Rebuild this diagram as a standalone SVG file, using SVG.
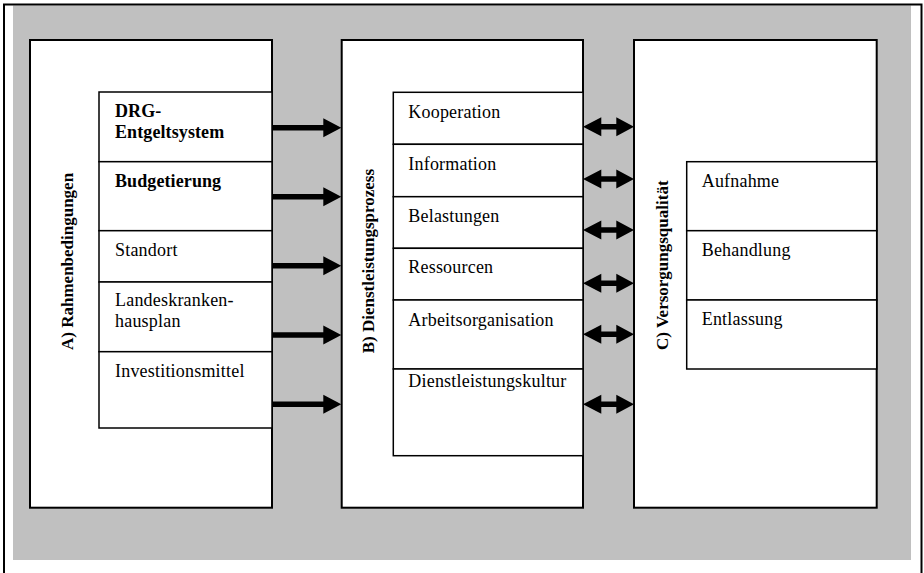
<svg xmlns="http://www.w3.org/2000/svg" xmlns:xlink="http://www.w3.org/1999/xlink" width="924" height="573" viewBox="0 0 924 573">
<style>
.frame{fill:none;stroke:#000;stroke-width:2}
.bg{fill:#c0c0c0;stroke:none}
.big{fill:#fff;stroke:#000;stroke-width:2}
.item{fill:#fff;stroke:#000;stroke-width:1.5}
.t{font-family:"Liberation Serif","Times New Roman",serif;font-size:18px;letter-spacing:0.2px;fill:#000}
.tb{font-family:"Liberation Serif","Times New Roman",serif;font-size:18px;font-weight:bold;letter-spacing:0.1px;fill:#000}
.lab{font-family:"Liberation Serif","Times New Roman",serif;font-size:17px;font-weight:bold;fill:#000}
.arr{fill:#000;stroke:none}
</style>
<defs>
<path id="single" class="arr" d="M0,-2.8 H51.3 V-9.5 L69.3,0 L51.3,9.5 V2.8 H0 Z"/>
<path id="double" class="arr" d="M0,0 L18.3,-9.5 V-2.8 H33.3 V-9.5 L51,0 L33.3,9.5 V2.8 H18.3 V9.5 Z"/>
</defs>
<rect class="bg" x="13" y="5.5" width="898" height="554.5"/>
<rect class="frame" x="4" y="4.5" width="917.5" height="580"/>

<g id="A">
<rect class="big" x="30" y="40" width="242" height="467.7"/>
<text class="lab" transform="translate(72.5,350) rotate(-90)">A) Rahmenbedingungen</text>
</g>
<g id="A-drg"><rect class="item" x="99" y="92" width="173" height="69.7"/><text class="tb" x="115" y="117.3">DRG-</text><text class="tb" x="115" y="138.3">Entgeltsystem</text></g>
<g id="A-budget"><rect class="item" x="99" y="161.7" width="173" height="69"/><text class="tb" x="115" y="186.7">Budgetierung</text></g>
<g id="A-standort"><rect class="item" x="99" y="230.7" width="173" height="51.3"/><text class="t" x="115" y="256">Standort</text></g>
<g id="A-landes"><rect class="item" x="99" y="282" width="173" height="69.7"/><text class="t" x="115" y="306">Landeskranken-</text><text class="t" x="115" y="327">hausplan</text></g>
<g id="A-invest"><rect class="item" x="99" y="351.7" width="173" height="76.3"/><text class="t" x="115" y="377">Investitionsmittel</text></g>

<g id="B">
<rect class="big" x="341.7" y="40" width="241.3" height="467.7"/>
<text class="lab" transform="translate(374,353.3) rotate(-90)">B) Dienstleistungsprozess</text>
</g>
<g id="B-koop"><rect class="item" x="393.3" y="92.3" width="189.7" height="52"/><text class="t" x="408.3" y="117.7">Kooperation</text></g>
<g id="B-info"><rect class="item" x="393.3" y="144.3" width="189.7" height="52.4"/><text class="t" x="408.3" y="170">Information</text></g>
<g id="B-belast"><rect class="item" x="393.3" y="196.7" width="189.7" height="51.6"/><text class="t" x="408.3" y="221.7">Belastungen</text></g>
<g id="B-ress"><rect class="item" x="393.3" y="248.3" width="189.7" height="51.7"/><text class="t" x="408.3" y="273.3">Ressourcen</text></g>
<g id="B-arbeit"><rect class="item" x="393.3" y="300" width="189.7" height="69"/><text class="t" x="408.3" y="326">Arbeitsorganisation</text></g>
<g id="B-kultur"><rect class="item" x="393.3" y="369" width="189.7" height="86.7"/><text class="t" x="408.3" y="387.3">Dienstleistungskultur</text></g>

<g id="C">
<rect class="big" x="634" y="40" width="242.7" height="467.7"/>
<text class="lab" transform="translate(668,350) rotate(-90)">C) Versorgungsqualität</text>
</g>
<g id="C-aufnahme"><rect class="item" x="686.7" y="161.7" width="190" height="69"/><text class="t" x="701.7" y="186.7">Aufnahme</text></g>
<g id="C-behandlung"><rect class="item" x="686.7" y="230.7" width="190" height="69.3"/><text class="t" x="701.7" y="255.7">Behandlung</text></g>
<g id="C-entlassung"><rect class="item" x="686.7" y="300" width="190" height="69"/><text class="t" x="701.7" y="325">Entlassung</text></g>

<g id="connectors">
<use xlink:href="#single" x="272" y="127.7"/>
<use xlink:href="#single" x="272" y="196.7"/>
<use xlink:href="#single" x="272" y="265.7"/>
<use xlink:href="#single" x="272" y="335"/>
<use xlink:href="#single" x="272" y="404.3"/>
<use xlink:href="#double" x="583" y="126.7"/>
<use xlink:href="#double" x="583" y="179"/>
<use xlink:href="#double" x="583" y="230"/>
<use xlink:href="#double" x="583" y="283.3"/>
<use xlink:href="#double" x="583" y="334.3"/>
<use xlink:href="#double" x="583" y="404.3"/>
</g>
</svg>
